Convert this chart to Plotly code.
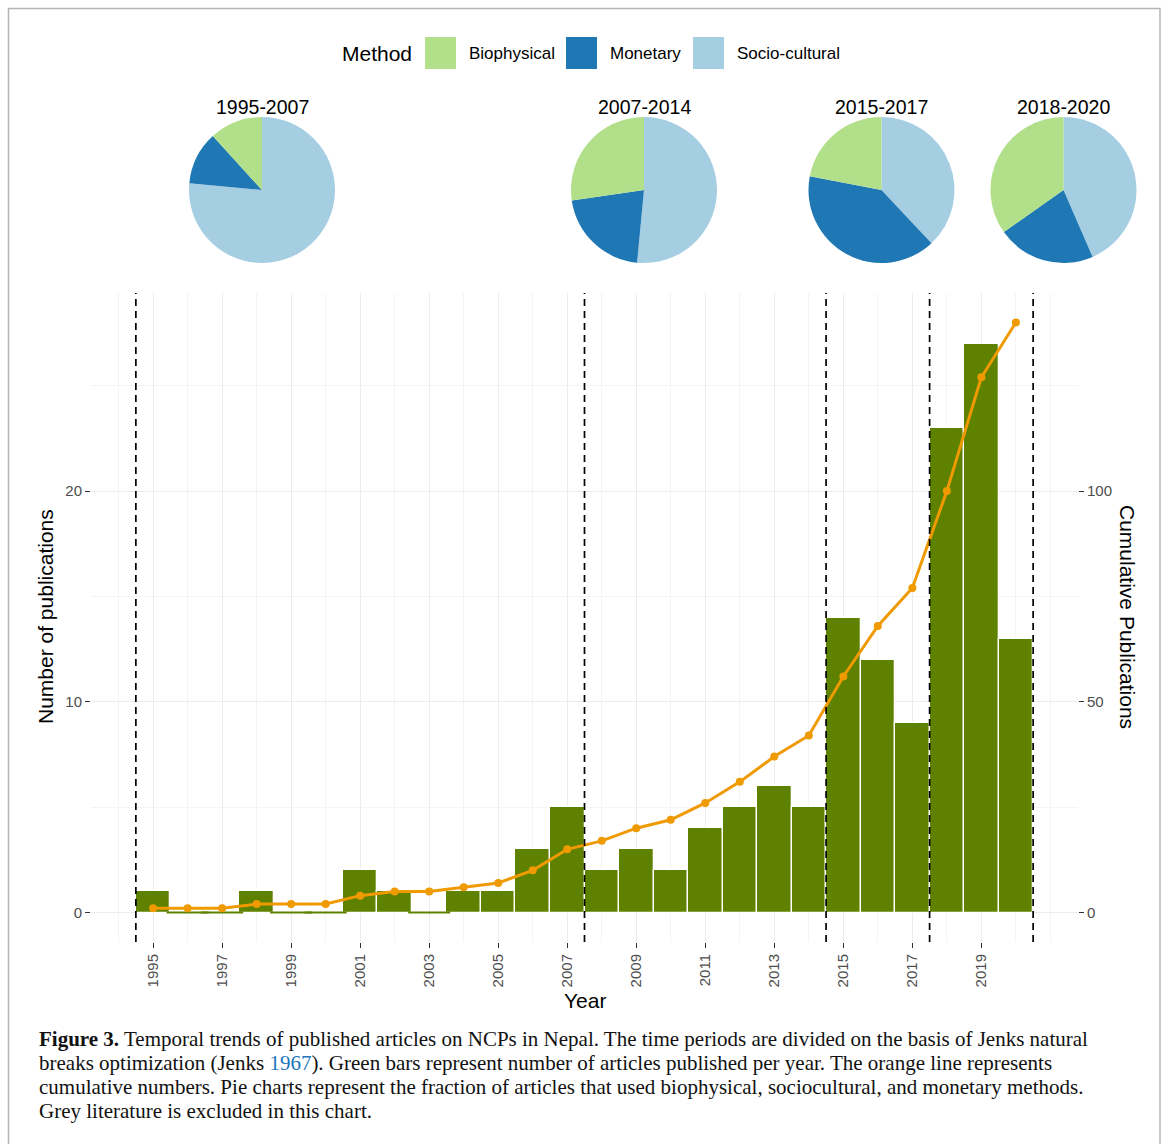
import plotly.graph_objects as go

# ---- data -------------------------------------------------------------
years = list(range(1995, 2021))
publications = [1, 0, 0, 1, 0, 0, 2, 1, 0, 1, 1, 3, 5,
                2, 3, 2, 4, 5, 6, 5, 14, 12, 9, 23, 27, 13]
cumulative = [1, 1, 1, 2, 2, 2, 4, 5, 5, 6, 7, 10, 15,
              17, 20, 22, 26, 31, 37, 42, 56, 68, 77, 100, 127, 140]
period_breaks = [1994.5, 2007.5, 2014.5, 2017.5, 2020.5]
periods = ["1995-2007", "2007-2014", "2015-2017", "2018-2020"]
methods = ["Socio-cultural", "Monetary", "Biophysical"]
method_counts = [
    [13, 2, 2],
    [17, 7, 9],
    [19, 20, 11],
    [20, 10, 16],
]
legend_order = ["Biophysical", "Monetary", "Socio-cultural"]
x_ticks = years[::2]
left_ticks = [0, 10, 20]
right_ticks = [0, 50, 100]

# ---- styling ----------------------------------------------------------
W, H = 1168, 1144
METHOD_COLORS = {"Biophysical": "#b2df8a", "Monetary": "#1f78b4",
                 "Socio-cultural": "#a6cee3"}
BAR_GREEN = "#5e8100"
LINE_ORANGE = "#ef9a00"
SANS = "Liberation Sans, Arial, sans-serif"
SERIF = "Liberation Serif, Times New Roman, serif"
GRID = "#ececec"
GRID_MINOR = "#f4f4f4"


def px(x):
    return x / W


def py(y):
    return 1 - y / H


def label(x, y, text, size, angle=0, xanchor="center", family=SANS,
          color="black"):
    fig.add_annotation(x=px(x), y=py(y), xref="paper", yref="paper",
                       text=text, showarrow=False, textangle=angle,
                       xanchor=xanchor, yanchor="middle",
                       font=dict(family=family, size=size, color=color))


fig = go.Figure()

# yearly publications
fig.add_trace(go.Bar(
    x=years, y=publications, width=1,
    marker=dict(color=BAR_GREEN, line=dict(color="white", width=1.3)),
    showlegend=False, hoverinfo="x+y",
))

# years without publications are shown as a flat stub on the baseline
zero_years = [yr for yr, v in zip(years, publications) if v == 0]
fig.add_trace(go.Scatter(
    x=zero_years, y=[0] * len(zero_years), mode="markers",
    marker=dict(symbol="line-ew", size=30,
                line=dict(color=BAR_GREEN, width=2)),
    showlegend=False, hoverinfo="skip",
))

# cumulative publications on the secondary axis
fig.add_trace(go.Scatter(
    x=years, y=cumulative, yaxis="y2", mode="lines+markers",
    line=dict(color=LINE_ORANGE, width=3),
    marker=dict(color=LINE_ORANGE, size=8),
    showlegend=False,
))

# method shares per period
pie_centers = [262, 644, 881.5, 1063.5]
pie_cy, pie_r = 190, 73
for name, counts, cx in zip(periods, method_counts, pie_centers):
    fig.add_trace(go.Pie(
        labels=methods, values=counts, sort=False, direction="clockwise",
        rotation=0, textinfo="none", hole=0,
        marker=dict(colors=[METHOD_COLORS[m] for m in methods],
                    line=dict(width=0)),
        domain=dict(x=[px(cx - pie_r), px(cx + pie_r)],
                    y=[py(pie_cy + pie_r), py(pie_cy - pie_r)]),
        showlegend=False, name=name,
    ))
    label(cx, 107, name, 19.5)

# period boundaries
shapes = []
for b in period_breaks:
    shapes.append(dict(
        type="line", xref="x", yref="y domain", x0=b, x1=b, y0=0, y1=1,
        line=dict(color="black", width=1.7, dash="7px,5px"), layer="above",
    ))

# legend
label(340, 53, "Method", 21, xanchor="left")
key_left = [425, 566, 693]
for m, kx in zip(legend_order, key_left):
    shapes.append(dict(
        type="rect", xref="paper", yref="paper",
        x0=px(kx), x1=px(kx + 31), y0=py(69), y1=py(37),
        fillcolor=METHOD_COLORS[m], line=dict(width=0),
    ))
    label(kx + 42, 53, m, 17, xanchor="left")

# outer frame
shapes.append(dict(type="rect", xref="paper", yref="paper",
                   x0=px(8.5), x1=px(1160), y0=-0.02, y1=py(8.5),
                   line=dict(color="#b5b5b5", width=1.5), layer="below"))

# axis titles
label(585, 1000, "Year", 21)
label(45, 617, "Number of publications", 21, angle=-90)
label(1128, 617, "Cumulative Publications", 21, angle=90)

# caption
caption = [
    "<b>Figure 3.</b> Temporal trends of published articles on NCPs in Nepal. "
    "The time periods are divided on the basis of Jenks natural",
    "breaks optimization (Jenks <span style='color:#1b75bb'>1967</span>). "
    "Green bars represent number of articles published per year. "
    "The orange line represents",
    "cumulative numbers. Pie charts represent the fraction of articles that "
    "used biophysical, sociocultural, and monetary methods.",
    "Grey literature is excluded in this chart.",
]
for i, line in enumerate(caption):
    label(37, 1039 + 24 * i, line, 21, xanchor="left", family=SERIF,
          color="#111111")

tick_font = dict(family=SANS, size=15, color="#4d4d4d")
fig.update_layout(
    width=W, height=H,
    margin=dict(l=0, r=0, t=0, b=0),
    paper_bgcolor="white", plot_bgcolor="white",
    shapes=shapes,
    bargap=0,
    xaxis=dict(
        domain=[px(91), px(1078)], range=[1993.2, 2021.8],
        tickmode="array", tickvals=x_ticks, tickangle=-90,
        ticks="outside", ticklen=5, tickwidth=1, tickcolor="#333333",
        tickfont=tick_font, showgrid=True, gridcolor=GRID, gridwidth=1,
        minor=dict(dtick=1, tick0=1994, showgrid=True,
                   gridcolor=GRID_MINOR, gridwidth=1, ticks=""),
        zeroline=False, showline=False, automargin=False,
    ),
    yaxis=dict(
        domain=[py(942), py(293)], range=[-1.4, 29.4],
        tickmode="array", tickvals=left_ticks,
        ticks="outside", ticklen=5, tickwidth=1, tickcolor="#333333",
        tickfont=tick_font, showgrid=True, gridcolor=GRID, gridwidth=1,
        minor=dict(dtick=5, tick0=0, showgrid=True,
                   gridcolor=GRID_MINOR, gridwidth=1, ticks=""),
        zeroline=False, showline=False, automargin=False,
    ),
    yaxis2=dict(
        overlaying="y", side="right", anchor="x", range=[-7, 147],
        tickmode="array", tickvals=right_ticks,
        ticks="outside", ticklen=5, tickwidth=1, tickcolor="#333333",
        tickfont=tick_font, showgrid=False, zeroline=False,
        showline=False, automargin=False,
    ),
)

fig.write_html("out.html")
